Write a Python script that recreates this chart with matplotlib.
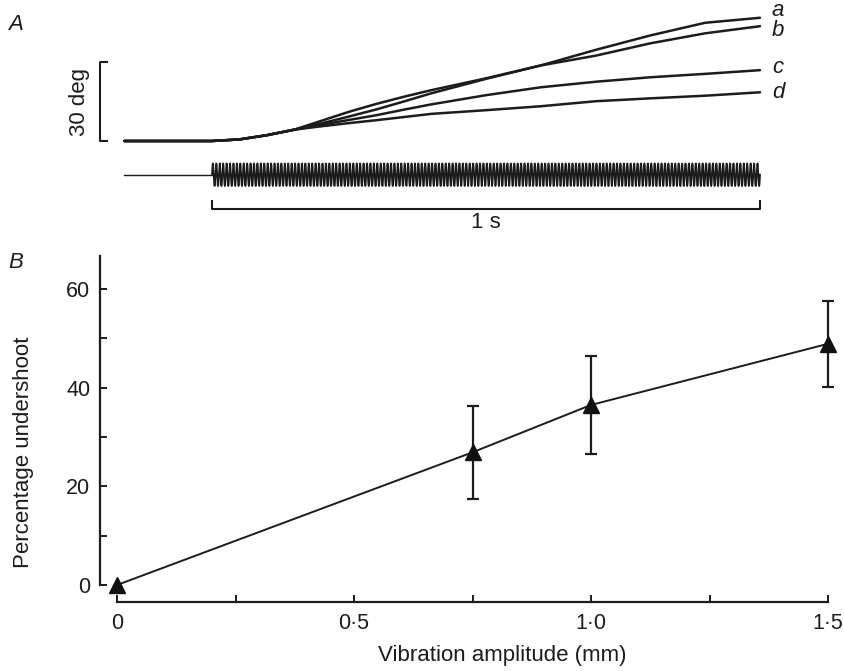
import matplotlib.pyplot as plt
import numpy as np

plt.rcParams['font.family'] = ['Liberation Sans', 'DejaVu Sans']

# panel A: joint angle traces (deg) vs time (s)
t_trace = [-0.16, 0.0, 0.05, 0.1, 0.15, 0.2, 0.25, 0.3, 0.35, 0.4, 0.5, 0.6, 0.7, 0.8, 0.9, 1.0]
trace_a = [0, 0, 0.6, 2.2, 4.3, 6.7, 9.3, 12.0, 15.0, 18.1, 23.6, 28.7, 34.6, 40.1, 44.9, 46.8]
trace_b = [0, 0, 0.6, 2.2, 4.3, 7.7, 11.1, 14.1, 16.8, 19.3, 23.8, 28.7, 32.4, 37.1, 40.9, 43.6]
trace_c = [0, 0, 0.6, 2.2, 4.3, 6.2, 8.0, 9.8, 11.9, 13.9, 17.4, 20.4, 22.5, 24.2, 25.5, 26.9]
trace_d = [0, 0, 0.6, 2.2, 4.3, 5.6, 6.8, 7.9, 9.1, 10.3, 11.7, 13.2, 15.1, 16.2, 17.2, 18.5]
trace_names = ['a', 'b', 'c', 'd']

# vibration stimulus (on from 0 to 1 s)
vib_on, vib_off = 0.0, 1.0
vib_hz = 160
vib_amp = 4.3
vib_level = -12.8

# panel B: percentage undershoot vs vibration amplitude
amp_mm = [0, 0.75, 1.0, 1.5]
undershoot = [0, 26.9, 36.5, 48.9]
undershoot_err = [0, 9.4, 10.0, 8.7]

ink = '#1c1c1c'
fig = plt.figure(figsize=(8.45, 6.71), dpi=100)

# ---- panel A ----
axA = fig.add_axes([0, 1 - 240 / 671, 1, 240 / 671])
axA.set_xlim(-0.3869, 1.1551)
axA.set_ylim(-37.6, 53.55)
axA.axis('off')

for tr in [trace_a, trace_b, trace_c, trace_d]:
    axA.plot(t_trace, tr, color=ink, lw=1.8, solid_capstyle='round', solid_joinstyle='round')

label_y = [49.4, 41.8, 28.1, 18.6]
for name, ly in zip(trace_names, label_y):
    axA.text(1.033, ly, name, fontsize=16, style='italic', ha='center', va='center', color=ink)

# vibration trace
t_v = np.linspace(vib_on, vib_off, 4000)
axA.plot([t_trace[0], vib_on], [vib_level, vib_level], color=ink, lw=1.0)
axA.plot(t_v, vib_level + vib_amp * np.sin(2 * np.pi * vib_hz * t_v), color=ink, lw=1.3)

# 30 deg scale bar
xb = -0.204
axA.plot([xb + 0.012, xb, xb, xb + 0.012], [0, 0, 30, 30], color=ink, lw=1.5)
axA.text(xb - 0.038, 15, '30 deg', rotation=90, fontsize=16, ha='center', va='center', color=ink)

# 1 s time bar
axA.plot([vib_on, vib_on, vib_off, vib_off], [-22.6, -25.8, -25.8, -22.6], color=ink, lw=1.5)
axA.text((vib_on + vib_off) / 2, -30.8, '1 s', fontsize=16, ha='center', va='center', color=ink)

fig.text(16 / 845, 1 - 25 / 671, 'A', fontsize=16, style='italic', ha='center', va='center', color=ink)

# ---- panel B ----
axB = fig.add_axes([100 / 845, 1 - 602 / 671, 728 / 845, 346 / 671])
axB.set_xlim(-0.036, 1.5)
axB.set_ylim(-3.45, 66.7)
axB.plot(amp_mm, undershoot, color=ink, lw=1.4, clip_on=False)
axB.errorbar(amp_mm[1:], undershoot[1:], yerr=undershoot_err[1:], fmt='none', ecolor=ink,
             elinewidth=1.6, capsize=4, capthick=1.6, clip_on=False)
axB.plot(amp_mm, undershoot, ls='none', marker='^', ms=12, color='#111111', clip_on=False, zorder=5)

for s in ['top', 'right']:
    axB.spines[s].set_visible(False)
axB.spines['left'].set_bounds(0, 66.7)
axB.spines['bottom'].set_bounds(0, 1.5)
for s in ['left', 'bottom']:
    axB.spines[s].set_linewidth(1.6)
    axB.spines[s].set_color(ink)

axB.set_xticks([0, 0.25, 0.5, 0.75, 1.0, 1.25, 1.5])
axB.set_xticklabels(['0', '', '0·5', '', '1·0', '', '1·5'])
axB.set_yticks([0, 20, 40, 60])
axB.set_yticks([10, 30, 50], minor=True)
axB.tick_params(axis='both', which='both', direction='in', length=5, width=1.4, colors=ink,
                labelsize=15.5)
axB.tick_params(axis='x', pad=8)
axB.tick_params(axis='y', pad=7)

fig.text(24 / 845, 1 - 452 / 671, 'Percentage undershoot', rotation=90, fontsize=16,
         ha='center', va='center', color=ink)
fig.text(502 / 845, 1 - 656 / 671, 'Vibration amplitude (mm)', fontsize=16,
         ha='center', va='center', color=ink)
fig.text(16 / 845, 1 - 262 / 671, 'B', fontsize=16, style='italic', ha='center', va='center', color=ink)

fig.savefig('out.png', dpi=100)
